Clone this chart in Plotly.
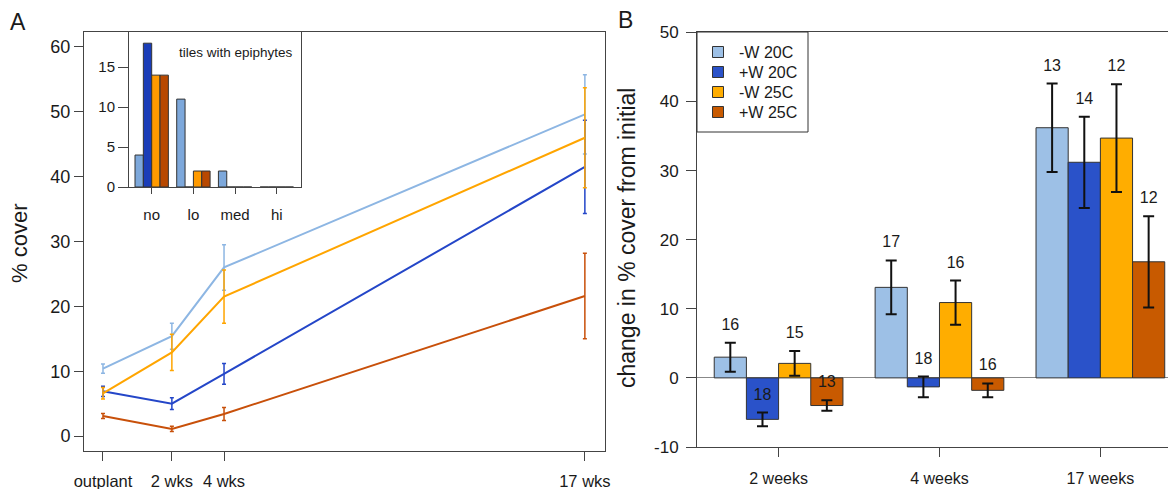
import plotly.graph_objects as go

# ---------------- data ----------------
series_names = ["-W 20C", "+W 20C", "-W 25C", "+W 25C"]

# Panel A: % cover over time (mean, se)
time_labels = ["outplant", "2 wks", "4 wks", "17 wks"]
time_weeks = [0, 2.43, 4.27, 17]
cover_m20 = [10.4, 15.4, 26.0, 49.6]
cover_m20_se = [0.7, 2.0, 3.5, 6.1]
cover_p20 = [6.9, 5.0, 9.6, 41.5]
cover_p20_se = [0.8, 0.9, 1.6, 7.2]
cover_m25 = [6.6, 12.9, 21.5, 46.0]
cover_m25_se = [0.9, 2.8, 4.1, 7.7]
cover_p25 = [3.1, 1.1, 3.4, 21.6]
cover_p25_se = [0.4, 0.4, 1.0, 6.6]

# Inset: tiles with epiphytes (counts)
epi_levels = ["no", "lo", "med", "hi"]
epi_m20 = [4, 11, 2, 0]
epi_p20 = [18, 0, 0, 0]
epi_m25 = [14, 2, 0, 0]
epi_p25 = [14, 2, 0, 0]

# Panel B: change in % cover from initial (mean, se, n)
periods = ["2 weeks", "4 weeks", "17 weeks"]
chg_m20 = [3.0, 13.1, 36.2]
chg_m20_se = [2.1, 3.9, 6.4]
chg_m20_n = [16, 17, 13]
chg_p20 = [-6.0, -1.3, 31.2]
chg_p20_se = [1.0, 1.5, 6.6]
chg_p20_n = [18, 18, 14]
chg_m25 = [2.1, 10.9, 34.7]
chg_m25_se = [1.8, 3.2, 7.8]
chg_m25_n = [15, 16, 12]
chg_p25 = [-4.0, -1.8, 16.8]
chg_p25_se = [0.75, 1.0, 6.6]
chg_p25_n = [13, 16, 12]

yticks_B = [-10, 0, 10, 20, 30, 40, 50]

# ---------------- styles ----------------
FONT = "Liberation Sans, Arial, Helvetica, sans-serif"
TXT = "#1a1a1a"
AX = "#444444"
line_colors = ["#8DB6E3", "#2446C8", "#FFA500", "#C8500A"]
inset_colors = ["#7DA8DB", "#1A3DB8", "#FF9A00", "#B84800"]
bar_colors = ["#9DC0E6", "#2A52C9", "#FFAD00", "#C85A00"]

OFF = 8  # page body margin
W, H = 1176 - OFF, 489 - OFF
def fx(p):
    return (p - OFF) / W
def fy(p):
    return 1 - (p - OFF) / H

fig = go.Figure()

# Panel A lines
cover_means = [cover_m20, cover_p20, cover_m25, cover_p25]
cover_ses = [cover_m20_se, cover_p20_se, cover_m25_se, cover_p25_se]
for name, m, s, c in zip(series_names, cover_means, cover_ses, line_colors):
    fig.add_trace(go.Scatter(
        x=time_weeks, y=m, mode="lines", name=name, showlegend=False,
        line=dict(color=c, width=2),
        error_y=dict(type="data", array=s, color=c, thickness=1.5, width=2),
        xaxis="x", yaxis="y"))

# Inset bars
inset_counts = [epi_m20, epi_p20, epi_m25, epi_p25]
bw_in = 0.2
for k, (name, cnt, c) in enumerate(zip(series_names, inset_counts, inset_colors)):
    fig.add_trace(go.Bar(
        x=[i + (k - 1.5) * bw_in for i in range(len(epi_levels))], y=cnt,
        width=bw_in, name=name, showlegend=False,
        marker=dict(color=c, line=dict(color="#333333", width=1)),
        xaxis="x2", yaxis="y2"))

# Panel B bars
chg_means = [chg_m20, chg_p20, chg_m25, chg_p25]
chg_ses = [chg_m20_se, chg_p20_se, chg_m25_se, chg_p25_se]
chg_ns = [chg_m20_n, chg_p20_n, chg_m25_n, chg_p25_n]
bw = 0.2
label_pad = 2.45
for k, (name, m, s, n, c) in enumerate(zip(series_names, chg_means, chg_ses, chg_ns, bar_colors)):
    xs = [i + (k - 1.5) * bw for i in range(len(periods))]
    fig.add_trace(go.Bar(
        x=xs, y=m, width=bw, name=name, showlegend=False,
        marker=dict(color=c, line=dict(color="#333333", width=1)),
        error_y=dict(type="data", array=s, color="#111111", thickness=2, width=5.5),
        xaxis="x3", yaxis="y3"))
    fig.add_trace(go.Scatter(
        x=xs, y=[mi + si + label_pad for mi, si in zip(m, s)],
        mode="text", text=[str(v) for v in n], showlegend=False,
        textfont=dict(size=16, color=TXT, family=FONT),
        xaxis="x3", yaxis="y3", hoverinfo="skip"))

axis_common = dict(showgrid=False, zeroline=False, showline=True, linecolor=AX,
                   linewidth=1, ticks="outside", tickcolor=AX, automargin=False,
                   tickfont=dict(size=17, color=TXT, family=FONT))

def ann(text, x, y, size, angle=0, xanchor="center"):
    return dict(text=text, x=fx(x), y=fy(y), xref="paper", yref="paper",
                xanchor=xanchor, yanchor="middle", showarrow=False,
                textangle=angle, font=dict(size=size, color=TXT, family=FONT))

# Legend for panel B (drawn as a boxed key)
shapes = [dict(type="rect", xref="paper", yref="paper",
               x0=fx(697), x1=fx(808), y0=fy(132), y1=fy(32),
               line=dict(color="#333333", width=1), fillcolor="white")]
annotations = []
for k, (name, c) in enumerate(zip(series_names, bar_colors)):
    yc = 52 + 20 * k
    shapes.append(dict(type="rect", xref="paper", yref="paper",
                       x0=fx(712.5), x1=fx(723.5), y0=fy(yc + 5.5), y1=fy(yc - 5.5),
                       line=dict(color="#333333", width=1), fillcolor=c))
    annotations.append(ann(name, 737, yc, 16, xanchor="left"))

annotations += [
    ann("A", 18, 22, 23),
    ann("B", 625, 20, 23),
    ann("% cover", 19, 244, 22, -90),
    ann("change in % cover from initial", 627, 238, 23, -90),
    ann("tiles with epiphytes", 236, 52, 13.5),
]

fig.update_layout(
    width=W, height=H, margin=dict(l=0, r=0, t=0, b=0),
    paper_bgcolor="white", plot_bgcolor="white", barmode="overlay",
    font=dict(family=FONT, color=TXT), showlegend=False,
    xaxis=dict(axis_common, domain=[fx(84), fx(605)], range=[-0.67, 17.71],
               tickvals=time_weeks, ticktext=time_labels, ticklen=9, mirror=True,
               tickfont=dict(size=16.5, color=TXT, family=FONT), ticklabelstandoff=6,
               anchor="y"),
    yaxis=dict(axis_common, domain=[fy(451), fy(32)], range=[-2.3, 62.3],
               tickvals=[0, 10, 20, 30, 40, 50, 60], ticklen=9, mirror=True,
               tickfont=dict(size=18, color=TXT, family=FONT), anchor="x"),
    xaxis2=dict(axis_common, domain=[fx(129), fx(301)], range=[-0.544, 3.58],
                tickvals=list(range(len(epi_levels))), ticktext=epi_levels,
                ticklen=6, mirror=True, anchor="y2", ticklabelstandoff=8,
                tickfont=dict(size=15, color=TXT, family=FONT)),
    yaxis2=dict(axis_common, domain=[fy(187), fy(32)], range=[0, 19.4],
                tickvals=[0, 5, 10, 15], ticklen=10, mirror=True, anchor="x2",
                tickfont=dict(size=15, color=TXT, family=FONT)),
    xaxis3=dict(axis_common, domain=[fx(697), 1.0], range=[-0.507, 2.47],
                tickvals=list(range(len(periods))), ticktext=periods,
                ticklen=9, mirror=True, anchor="y3", ticklabelstandoff=8,
                tickfont=dict(size=16, color=TXT, family=FONT)),
    yaxis3=dict(axis_common, domain=[fy(447), fy(32)], range=[-10, 50.05],
                tickvals=yticks_B, ticktext=[str(v) for v in yticks_B],
                ticklen=10, mirror=False,
                zeroline=True, zerolinecolor="#888888", zerolinewidth=1,
                anchor="x3", ticklabelstandoff=4),
    shapes=shapes,
    annotations=annotations,
)

fig.write_html("out.html")
